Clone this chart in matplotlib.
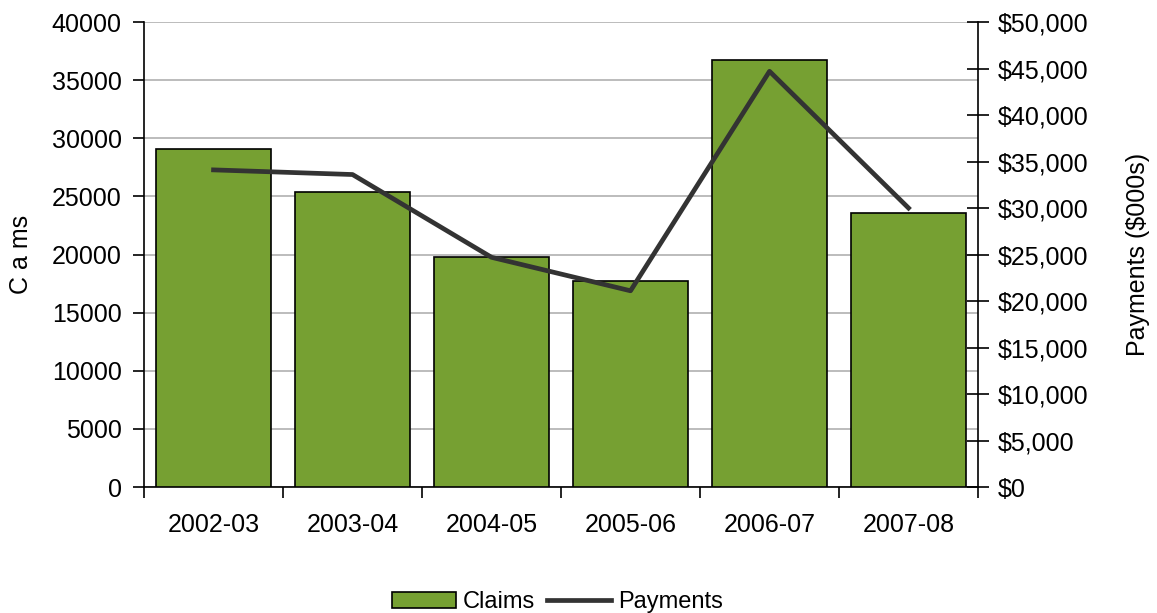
import numpy as np
from matplotlib import pyplot as plt
from matplotlib.ticker import FuncFormatter, FixedLocator

plt.rcParams['font.family'] = ['Liberation Sans', 'DejaVu Sans']

years = ['2002-03', '2003-04', '2004-05', '2005-06', '2006-07', '2007-08']
claims = [29100, 25400, 19800, 17700, 36700, 23600]
payments = [34100, 33600, 24700, 21100, 44700, 30000]

BAR_COLOR = '#76A032'
LINE_COLOR = '#333333'
FS = 18

fig = plt.figure(figsize=(11.57, 6.13), dpi=100)
ax = fig.add_axes([0.1245, 0.2055, 0.7208, 0.7586])
x = np.arange(len(years))

bars = ax.bar(x, claims, width=0.83, color=BAR_COLOR, edgecolor='black',
              linewidth=1.2, zorder=3, label='Claims')
ax.set_xlim(-0.5, len(years) - 0.5)
ax.set_ylim(0, 40000)
ax.set_yticks(range(0, 40001, 5000))
ax.grid(axis='y', color='#b0b0b0', linewidth=1.2, zorder=0)
ax.set_ylabel('C a ms', fontsize=FS)
ax.yaxis.set_label_coords(-0.133, 0.5)

# category labels in the middle, tick marks on the boundaries
ax.set_xticks(x)
ax.set_xticklabels(years, fontsize=FS)
ax.tick_params(axis='x', which='major', length=0, pad=19)
ax.xaxis.set_minor_locator(FixedLocator(np.arange(-0.5, len(years), 1.0)))
ax.tick_params(axis='x', which='minor', length=8, width=1.2, direction='out')
ax.tick_params(axis='y', labelsize=FS, length=8, width=1.2, direction='out', pad=8)

ax.spines['top'].set_visible(False)
ax.spines['right'].set_visible(False)
ax.spines['left'].set_linewidth(1.2)
ax.spines['bottom'].set_linewidth(1.2)

ax2 = ax.twinx()
line, = ax2.plot(x, payments, color=LINE_COLOR, linewidth=3.4, zorder=5,
                 label='Payments')
ax2.set_ylim(0, 50000)
ax2.set_yticks(range(0, 50001, 5000))
ax2.yaxis.set_major_formatter(FuncFormatter(lambda v, p: '${:,.0f}'.format(v)))
ax2.tick_params(axis='y', labelsize=FS, length=16, width=1.2, direction='inout', pad=6)
ax2.set_ylabel('Payments ($000s)', fontsize=FS)
ax2.yaxis.set_label_coords(1.178, 0.5)
ax2.spines['top'].set_visible(False)
ax2.spines['left'].set_visible(False)
ax2.spines['bottom'].set_visible(False)
ax2.spines['right'].set_linewidth(1.2)

fig.legend([bars, line], ['Claims', 'Payments'], loc='lower center',
           bbox_to_anchor=(0.482, -0.035), ncol=2, frameon=False, fontsize=17,
           handlelength=2.7, handleheight=0.7, handletextpad=0.3,
           columnspacing=0.5)

fig.savefig('out.png', dpi=100)
